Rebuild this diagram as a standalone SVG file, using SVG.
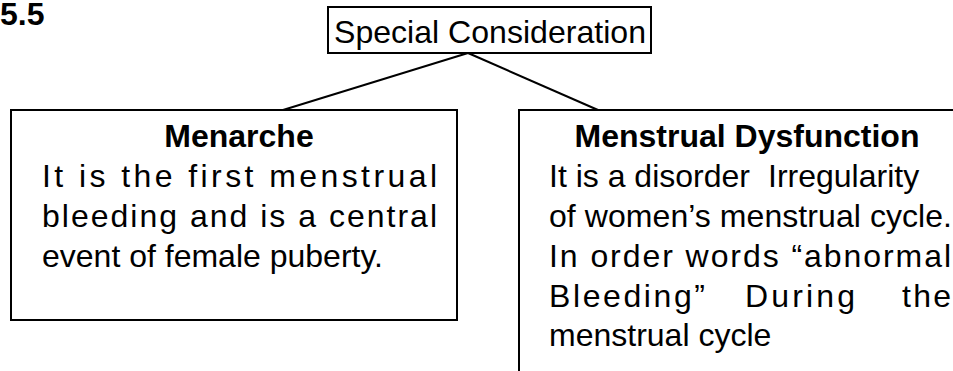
<svg xmlns="http://www.w3.org/2000/svg" width="953" height="371" viewBox="0 0 953 371">
<style>
  .box { fill: #ffffff; stroke: #000000; stroke-width: 2; }
  .conn { stroke: #000000; stroke-width: 2; fill: none; }
  .t { font-family: "Liberation Sans", Arial, sans-serif; font-size: 32px; fill: #000000; }
  .b { font-weight: bold; }
</style>
<rect x="0" y="0" width="953" height="371" fill="#ffffff"/>
<text id="label" class="t b" x="0" y="25" font-size="27">5.5</text>
<g id="connectors">
  <line class="conn" x1="468" y1="53" x2="283" y2="110"/>
  <line class="conn" x1="468" y1="53" x2="598" y2="110"/>
</g>
<g id="node-special">
  <rect class="box" x="328" y="7" width="323" height="46"/>
  <text class="t" x="334" y="43" font-size="31" textLength="312" lengthAdjust="spacingAndGlyphs">Special Consideration</text>
</g>
<g id="node-menarche">
  <rect class="box" x="11" y="110" width="446" height="210"/>
  <text class="t b" x="239" y="147" text-anchor="middle">Menarche</text>
  <text class="t" x="42" y="187" textLength="395" lengthAdjust="spacing">It is the first menstrual</text>
  <text class="t" x="42" y="227" textLength="395" lengthAdjust="spacing">bleeding and is a central</text>
  <text class="t" x="42" y="267">event of female puberty.</text>
</g>
<g id="node-dysfunction">
  <rect class="box" x="519" y="110" width="500" height="300"/>
  <text class="t b" x="747" y="147" text-anchor="middle">Menstrual Dysfunction</text>
  <text class="t" x="549" y="187">It is a disorder</text>
  <text class="t" x="768" y="187">Irregularity</text>
  <text class="t" x="549" y="227" textLength="403" lengthAdjust="spacing">of women’s menstrual cycle.</text>
  <text class="t" x="549" y="267" textLength="402" lengthAdjust="spacing">In order words “abnormal</text>
  <text class="t" x="549" y="307" textLength="156" lengthAdjust="spacing">Bleeding”</text>
  <text class="t" x="745" y="307" textLength="110" lengthAdjust="spacing">During</text>
  <text class="t" x="902" y="307" textLength="49" lengthAdjust="spacing">the</text>
  <text class="t" x="549" y="346">menstrual cycle</text>
</g>
</svg>
